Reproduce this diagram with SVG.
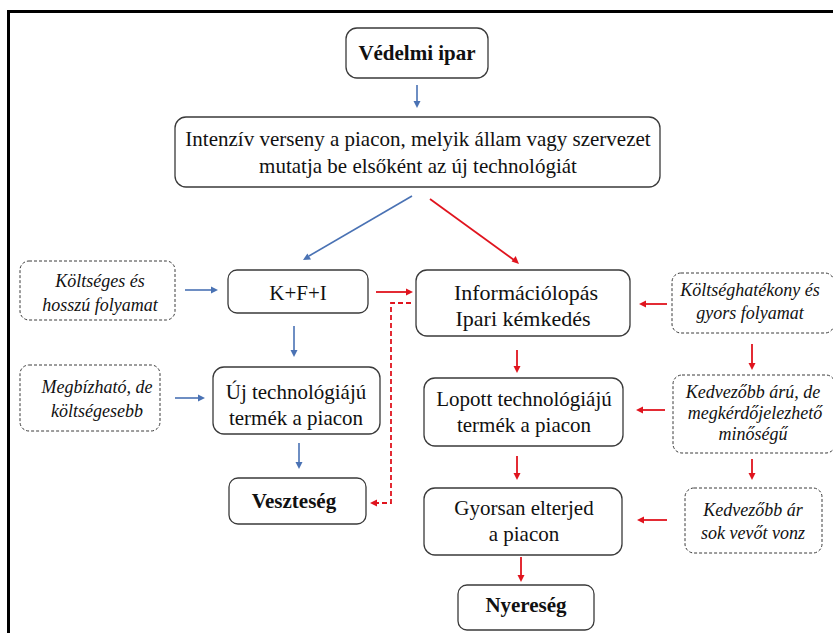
<svg xmlns="http://www.w3.org/2000/svg" width="833" height="633" viewBox="0 0 833 633">
<rect x="0" y="0" width="833" height="633" fill="#fff"/>
<path d="M8.5,640 V11.5 H840" fill="none" stroke="#000" stroke-width="3"/>

<g id="connectors">
<g stroke="#4a72b4" stroke-width="1.6" fill="none">
<line x1="417" y1="85" x2="417" y2="101"/>
<line x1="412" y1="196" x2="309" y2="256"/>
<line x1="185" y1="290" x2="211" y2="290"/>
<line x1="294" y1="326" x2="294" y2="350"/>
<line x1="175" y1="398" x2="198" y2="398"/>
<line x1="299" y1="443" x2="299" y2="462"/>
</g>
<g fill="#4a72b4">
<path d="M417,108 L413.5,101 L420.5,101 Z"/>
<path d="M303,260 L307.4,253.4 L311,259.4 Z"/>
<path d="M218,290 L211,286.5 L211,293.5 Z"/>
<path d="M294,357 L290.5,350 L297.5,350 Z"/>
<path d="M205,398 L198,394.5 L198,401.5 Z"/>
<path d="M299,469 L295.5,462 L302.5,462 Z"/>
</g>
<g stroke="#e0141e" stroke-width="1.8" fill="none">
<line x1="430" y1="199" x2="514" y2="260"/>
<line x1="376" y1="292" x2="406" y2="292"/>
<line x1="667" y1="304" x2="646" y2="304"/>
<line x1="517" y1="350" x2="517" y2="366"/>
<line x1="752" y1="344" x2="752" y2="363"/>
<line x1="665" y1="410" x2="643" y2="410"/>
<line x1="752" y1="459" x2="752" y2="473"/>
<line x1="517" y1="456" x2="517" y2="473"/>
<line x1="667" y1="520" x2="644" y2="520"/>
<line x1="521" y1="557" x2="521" y2="575"/>
</g>
<path d="M411,303 H391 V503 H376" stroke="#e0141e" stroke-width="1.8" stroke-dasharray="5 3" fill="none"/>
<g fill="#e0141e">
<path d="M519,264 L511.6,261.6 L515.7,255.9 Z"/>
<path d="M413,292 L406,288.5 L406,295.5 Z"/>
<path d="M639,304 L646,300.5 L646,307.5 Z"/>
<path d="M517,373 L513.5,366 L520.5,366 Z"/>
<path d="M752,370 L748.5,363 L755.5,363 Z"/>
<path d="M636,410 L643,406.5 L643,413.5 Z"/>
<path d="M752,480 L748.5,473 L755.5,473 Z"/>
<path d="M517,480 L513.5,473 L520.5,473 Z"/>
<path d="M637,520 L644,516.5 L644,523.5 Z"/>
<path d="M521,582 L517.5,575 L524.5,575 Z"/>
<path d="M370,503 L377,499.5 L377,506.5 Z"/>
</g>
</g>

<g id="n-vedelmi"><rect x="346" y="28" width="142" height="50" rx="11" fill="#fff" stroke="#3a3a3a" stroke-width="1.3"/><text font-family="Times New Roman" font-weight="bold" font-size="21" fill="#111" text-anchor="middle" x="417" y="60">Védelmi ipar</text></g>
<g id="n-verseny"><rect x="175" y="117" width="485" height="70" rx="11" fill="#fff" stroke="#3a3a3a" stroke-width="1.3"/><text font-family="Times New Roman" font-size="21" fill="#111" text-anchor="middle" x="418" y="146">Intenzív verseny a piacon, melyik állam vagy szervezet</text><text font-family="Times New Roman" font-size="21" fill="#111" text-anchor="middle" x="418" y="173">mutatja be elsőként az új technológiát</text></g>
<g id="n-koltseges"><rect x="20" y="261" width="155" height="59" rx="9" fill="#fff" stroke="#3a3a3a" stroke-width="1" stroke-dasharray="3 2"/><text font-family="Times New Roman" font-style="italic" font-size="18" fill="#111" text-anchor="middle" x="100" y="287">Költséges és</text><text font-family="Times New Roman" font-style="italic" font-size="18" fill="#111" text-anchor="middle" x="100" y="311">hosszú folyamat</text></g>
<g id="n-kfi"><rect x="228" y="270" width="140" height="43" rx="9" fill="#fff" stroke="#3a3a3a" stroke-width="1.3"/><text font-family="Times New Roman" font-size="21" fill="#111" text-anchor="middle" x="298" y="300">K+F+I</text></g>
<g id="n-info"><rect x="416" y="270" width="214" height="66" rx="11" fill="#fff" stroke="#3a3a3a" stroke-width="1.3"/><text font-family="Times New Roman" font-size="22" fill="#111" text-anchor="middle" x="526" y="300">Információlopás</text><text font-family="Times New Roman" font-size="22" fill="#111" text-anchor="middle" x="523" y="326">Ipari kémkedés</text></g>
<g id="n-koltseghat"><rect x="672" y="273" width="162" height="60" rx="9" fill="#fff" stroke="#3a3a3a" stroke-width="1" stroke-dasharray="3 2"/><text font-family="Times New Roman" font-style="italic" font-size="18" fill="#111" text-anchor="middle" x="750" y="296">Költséghatékony és</text><text font-family="Times New Roman" font-style="italic" font-size="18" fill="#111" text-anchor="middle" x="750" y="319">gyors folyamat</text></g>
<g id="n-megbizhato"><rect x="20" y="365" width="140" height="66" rx="9" fill="#fff" stroke="#3a3a3a" stroke-width="1" stroke-dasharray="3 2"/><text font-family="Times New Roman" font-style="italic" font-size="18" fill="#111" text-anchor="middle" x="97" y="393">Megbízható, de</text><text font-family="Times New Roman" font-style="italic" font-size="18" fill="#111" text-anchor="middle" x="97" y="417">költségesebb</text></g>
<g id="n-uj"><rect x="213" y="367" width="167" height="67" rx="11" fill="#fff" stroke="#3a3a3a" stroke-width="1.3"/><text font-family="Times New Roman" font-size="21" fill="#111" text-anchor="middle" x="296" y="399">Új technológiájú</text><text font-family="Times New Roman" font-size="21" fill="#111" text-anchor="middle" x="296" y="425">termék a piacon</text></g>
<g id="n-lopott"><rect x="424" y="378" width="199" height="68" rx="11" fill="#fff" stroke="#3a3a3a" stroke-width="1.3"/><text font-family="Times New Roman" font-size="21" fill="#111" text-anchor="middle" x="524" y="406">Lopott technológiájú</text><text font-family="Times New Roman" font-size="21" fill="#111" text-anchor="middle" x="524" y="432">termék a piacon</text></g>
<g id="n-kedvezobb1"><rect x="673" y="375" width="162" height="78" rx="9" fill="#fff" stroke="#3a3a3a" stroke-width="1" stroke-dasharray="3 2"/><text font-family="Times New Roman" font-style="italic" font-size="18" fill="#111" text-anchor="middle" x="753" y="398">Kedvezőbb árú, de</text><text font-family="Times New Roman" font-style="italic" font-size="18" fill="#111" text-anchor="middle" x="755" y="419">megkérdőjelezhető</text><text font-family="Times New Roman" font-style="italic" font-size="18" fill="#111" text-anchor="middle" x="753" y="440">minőségű</text></g>
<g id="n-veszteseg"><rect x="229" y="478" width="137" height="46" rx="9" fill="#fff" stroke="#3a3a3a" stroke-width="1.3"/><text font-family="Times New Roman" font-weight="bold" font-size="21" fill="#111" text-anchor="middle" x="294" y="508">Veszteség</text></g>
<g id="n-gyorsan"><rect x="424" y="488" width="198" height="67" rx="11" fill="#fff" stroke="#3a3a3a" stroke-width="1.3"/><text font-family="Times New Roman" font-size="21" fill="#111" text-anchor="middle" x="524" y="515">Gyorsan elterjed</text><text font-family="Times New Roman" font-size="21" fill="#111" text-anchor="middle" x="524" y="541">a piacon</text></g>
<g id="n-kedvezobb2"><rect x="685" y="488" width="137" height="65" rx="9" fill="#fff" stroke="#3a3a3a" stroke-width="1" stroke-dasharray="3 2"/><text font-family="Times New Roman" font-style="italic" font-size="18" fill="#111" text-anchor="middle" x="753" y="516">Kedvezőbb ár</text><text font-family="Times New Roman" font-style="italic" font-size="18" fill="#111" text-anchor="middle" x="753" y="539">sok vevőt vonz</text></g>
<g id="n-nyereseg"><rect x="458" y="585" width="136" height="45" rx="9" fill="#fff" stroke="#3a3a3a" stroke-width="1.3"/><text font-family="Times New Roman" font-weight="bold" font-size="21" fill="#111" text-anchor="middle" x="526" y="612">Nyereség</text></g>
</svg>
